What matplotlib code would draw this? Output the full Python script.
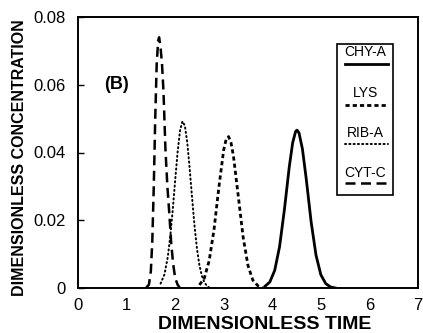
import matplotlib.pyplot as plt
from matplotlib.patches import Rectangle

plt.rcParams['font.family'] = ['Liberation Sans', 'DejaVu Sans']

# ------------------------------------------------------------
# Data
# ------------------------------------------------------------
cyt_x = [1.40, 1.46, 1.50, 1.53, 1.56, 1.59, 1.62, 1.65, 1.67, 1.70, 1.73, 1.76, 1.80,
         1.84, 1.88, 1.92, 1.96, 2.00, 2.05, 2.10]
cyt_y = [0.0, 0.001, 0.005, 0.014, 0.030, 0.050, 0.066, 0.073, 0.074, 0.071, 0.066, 0.058,
         0.041, 0.030, 0.022, 0.013, 0.007, 0.003, 0.001, 0.0]

rib_x = [1.70, 1.78, 1.85, 1.90, 1.95, 2.00, 2.05, 2.10, 2.15, 2.20, 2.25, 2.30, 2.35,
         2.40, 2.45, 2.50, 2.55, 2.60, 2.66, 2.72]
rib_y = [0.0013, 0.0040, 0.0093, 0.0153, 0.0230, 0.0317, 0.0400, 0.0464, 0.0492, 0.0479,
         0.0429, 0.0351, 0.0264, 0.0182, 0.0115, 0.0067, 0.0036, 0.0017, 0.0005, 0.0]

lys_x = [2.50, 2.60, 2.70, 2.80, 2.90, 3.00, 3.05, 3.10, 3.15, 3.20, 3.30, 3.40, 3.50,
         3.60, 3.70, 3.80]
lys_y = [0.0009, 0.0029, 0.0080, 0.0172, 0.0297, 0.0408, 0.0439, 0.0447, 0.0429, 0.0390,
         0.0271, 0.0150, 0.0066, 0.0023, 0.0007, 0.0]

chy_x = [3.85, 3.95, 4.05, 4.15, 4.25, 4.35, 4.42, 4.48, 4.51, 4.55, 4.62, 4.70, 4.80,
         4.90, 5.00, 5.10, 5.20, 5.30]
chy_y = [0.0005, 0.0018, 0.0052, 0.0122, 0.0232, 0.0358, 0.0429, 0.0462, 0.0466, 0.0458,
         0.0411, 0.0321, 0.0195, 0.0097, 0.0039, 0.0013, 0.0003, 0.0]

x_ticks = [0, 1, 2, 3, 4, 5, 6, 7]
y_ticks = [0, 0.02, 0.04, 0.06, 0.08]
y_tick_labels = ['0', '0.02', '0.04', '0.06', '0.08']

# line styles per protein
styles = {
    'CHY-A': dict(color='black', lw=2.0, linestyle='-'),
    'LYS': dict(color='black', lw=2.0, linestyle=(0, (1.5, 1.1))),
    'RIB-A': dict(color='black', lw=1.4, linestyle=(0, (0.6, 1.6)), dash_capstyle='round'),
    'CYT-C': dict(color='black', lw=1.8, linestyle=(0, (4.0, 2.2))),
}

fig = plt.figure(figsize=(4.23, 3.33), dpi=100)
ax = fig.add_axes([78 / 423, 1 - 288 / 333, 340 / 423, 271 / 333])

ax.plot(chy_x, chy_y, **styles['CHY-A'])
ax.plot(lys_x, lys_y, **styles['LYS'])
ax.plot(rib_x, rib_y, **styles['RIB-A'])
ax.plot(cyt_x, cyt_y, **styles['CYT-C'])

ax.set_xlim(0, 7)
ax.set_ylim(0, 0.08)
ax.set_xticks(x_ticks)
ax.set_yticks(y_ticks)
ax.set_yticklabels(y_tick_labels)
ax.tick_params(axis='y', direction='in', length=4, width=1, pad=9, labelsize=12)
ax.tick_params(axis='x', direction='in', length=0, pad=7, labelsize=12)
for s in ax.spines.values():
    s.set_linewidth(1.4)

ax.set_xlabel('DIMENSIONLESS TIME', fontsize=14, fontweight='bold')
ax.xaxis.set_label_coords(0.55, -0.105)
ax.set_ylabel('DIMENSIONLESS CONCENTRATION', fontsize=11.5, fontweight='bold')
ax.yaxis.set_label_coords(-0.15, 0.48)

ax.text(0.80, 0.0602, '(B)', fontsize=13, fontweight='bold', ha='center', va='center')

# legend: label text above each line sample, inside a framed box
ax.add_patch(Rectangle((0.762, 0.343), 0.165, 0.557, transform=ax.transAxes,
                       fill=False, lw=1.2, color='black'))
text_y = [0.871, 0.720, 0.572, 0.424]
line_y = [0.827, 0.675, 0.531, 0.387]
for name, ty, ly in zip(['CHY-A', 'LYS', 'RIB-A', 'CYT-C'], text_y, line_y):
    ax.text(0.845, ty, name, transform=ax.transAxes, fontsize=10,
            ha='center', va='center')
    ax.plot([0.786, 0.912], [ly, ly], transform=ax.transAxes, **styles[name])

fig.savefig('out.png', dpi=100)
